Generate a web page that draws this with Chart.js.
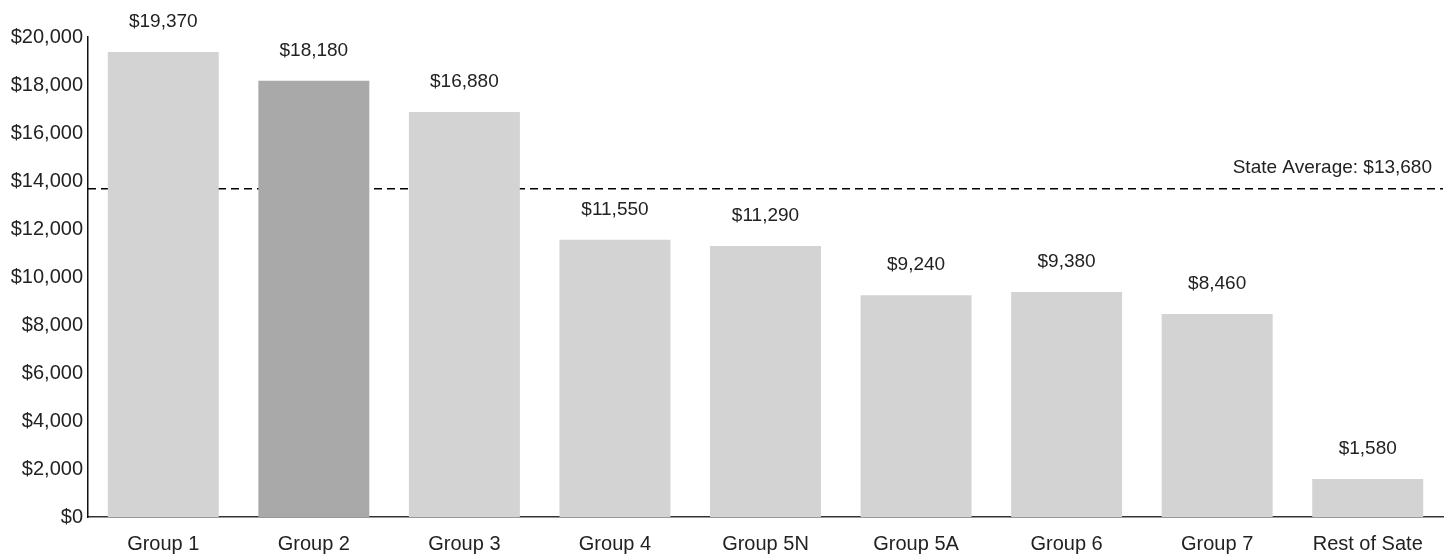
<!DOCTYPE html>
<html>
<head>
<meta charset="utf-8">
<script src="https://cdn.jsdelivr.net/npm/chart.js@4/dist/chart.umd.min.js"></script>
<style>
  html, body { margin: 0; padding: 0; background: #fff; }
  #wrap { width: 1448px; height: 554px; }
</style>
</head>
<body>
<div id="wrap"><canvas id="costChart"></canvas></div>
<script>
/* Per-group cost vs. state average */
const GROUPS   = ['Group 1', 'Group 2', 'Group 3', 'Group 4', 'Group 5N', 'Group 5A', 'Group 6', 'Group 7', 'Rest of Sate'];
const COSTS    = [19370, 18180, 16880, 11550, 11290, 9240, 9380, 8460, 1580];
const STATE_AVG = 13680;
const Y_MAX    = 20000;
const Y_STEP   = 2000;

const LIGHT_GRAY = '#d3d3d3';
const DARK_GRAY  = '#a9a9a9';
const TEXT_DARK  = '#222';
const FONT = '"Liberation Sans", Arial, sans-serif';

const money = v => '$' + v.toLocaleString('en-US');

// dashed average line, drawn under the bars
const avgLine = {
  id: 'avgLine',
  beforeDatasetsDraw(chart) {
    const { ctx, chartArea, scales } = chart;
    const y = scales.y.getPixelForValue(STATE_AVG);
    ctx.save();
    ctx.strokeStyle = '#000';
    ctx.lineWidth = 1.5;
    ctx.setLineDash([8, 5]);
    ctx.beginPath();
    ctx.moveTo(chartArea.left, y);
    ctx.lineTo(chartArea.right, y);
    ctx.stroke();
    ctx.setLineDash([]);
    ctx.fillStyle = TEXT_DARK;
    ctx.font = '19px ' + FONT;
    ctx.textAlign = 'right';
    ctx.textBaseline = 'middle';
    ctx.fillText('State Average: ' + money(STATE_AVG), chartArea.right - 11, y - 21);
    ctx.restore();
  },
};

// value labels over each bar
const barValues = {
  id: 'barValues',
  afterDatasetsDraw(chart) {
    const { ctx } = chart;
    const meta = chart.getDatasetMeta(0);
    ctx.save();
    ctx.fillStyle = TEXT_DARK;
    ctx.font = '19px ' + FONT;
    ctx.textAlign = 'center';
    ctx.textBaseline = 'middle';
    meta.data.forEach((bar, i) => {
      ctx.fillText(money(COSTS[i]), bar.x, bar.y - 30);
    });
    ctx.restore();
  },
};

new Chart(document.getElementById('costChart'), {
  type: 'bar',
  data: {
    labels: GROUPS,
    datasets: [{
      data: COSTS,
      backgroundColor: GROUPS.map((g, i) => i === 1 ? DARK_GRAY : LIGHT_GRAY),
      borderWidth: 0,
      barPercentage: 0.737,
      categoryPercentage: 1,
    }],
  },
  options: {
    responsive: true,
    maintainAspectRatio: false,
    animation: false,
    layout: { padding: { top: 37, right: 5, left: 0, bottom: 0 } },
    plugins: {
      legend: { display: false },
      tooltip: { enabled: false },
    },
    scales: {
      x: {
        grid: { display: false, drawTicks: false },
        border: { display: true, color: '#333', width: 1.5 },
        ticks: { color: TEXT_DARK, font: { family: FONT, size: 20 }, padding: 15, maxRotation: 0, autoSkip: false },
        afterFit(scale) { scale.height = 37; },
      },
      y: {
        min: 0,
        max: Y_MAX,
        grid: { display: false, drawTicks: false },
        border: { display: true, color: '#111', width: 1.5 },
        ticks: {
          stepSize: Y_STEP,
          color: TEXT_DARK,
          font: { family: FONT, size: 20 },
          padding: 5,
          callback: v => money(v),
        },
        afterFit(scale) { scale.width = 88; },
      },
    },
  },
  plugins: [avgLine, barValues],
});
</script>
</body>
</html>
